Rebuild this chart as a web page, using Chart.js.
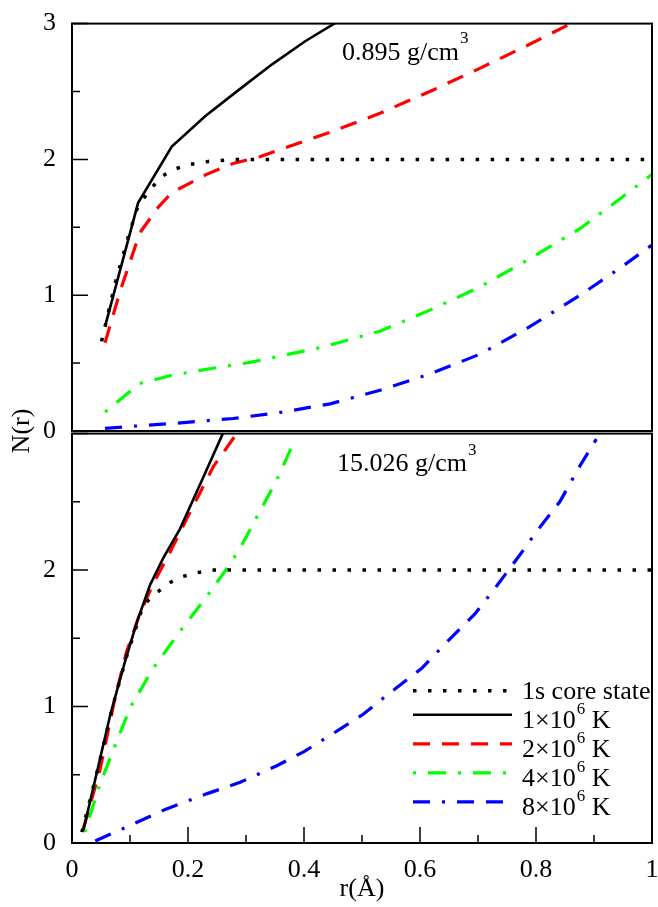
<!DOCTYPE html>
<html>
<head>
  <meta charset="utf-8">
  <title>N(r)</title>
  <script src="https://cdn.jsdelivr.net/npm/chart.js"></script>
  <style>
    body { margin: 0; background: #fff; }
    .panel { position: absolute; left: 0; }
    #topWrap { top: 0; }
    #botWrap { top: 410px; }
  </style>
</head>
<body>
  <div class="panel" id="topWrap"><canvas id="topChart" width="658" height="460"></canvas></div>
  <div class="panel" id="botWrap"><canvas id="botChart" width="658" height="497"></canvas></div>

  <script>
    // labels
    const seriesLabels = ['1s core state', '1×10⁶ K', '2×10⁶ K', '4×10⁶ K', '8×10⁶ K'];
    const densityLabels = ['0.895 g/cm³', '15.026 g/cm³'];
    const xTickLabels = ['0', '0.2', '0.4', '0.6', '0.8', '1'];
    const yTickLabelsTop = ['0', '1', '2', '3'];
    const yTickLabelsBot = ['0', '1', '2', ''];

    // 0.895 g/cm3 panel, [r, N]
    const coreLo = [[0.051,0.66],[0.074,1.08],[0.097,1.43],[0.114,1.66],[0.137,1.79],[0.157,1.88],[0.178,1.93],[0.2,1.96],[0.235,1.985],[0.28,2.0],[0.5,2.0],[0.75,2.0],[1.0,2.0]];
    const t1Lo = [[0.057,0.77],[0.114,1.68],[0.172,2.095],[0.23,2.32],[0.287,2.51],[0.345,2.7],[0.402,2.87],[0.46,3.02]];
    const t2Lo = [[0.057,0.65],[0.083,1.03],[0.117,1.46],[0.149,1.65],[0.172,1.755],[0.232,1.89],[0.278,1.97],[0.324,2.02],[0.445,2.2],[0.531,2.34],[0.617,2.5],[0.703,2.67],[0.79,2.85],[0.86,3.0]];
    const t4Lo = [[0.057,0.14],[0.117,0.35],[0.172,0.41],[0.232,0.455],[0.307,0.505],[0.428,0.614],[0.531,0.735],[0.617,0.89],[0.703,1.06],[0.79,1.27],[0.876,1.49],[0.945,1.71],[1.0,1.89]];
    const t8Lo = [[0.057,0.02],[0.175,0.056],[0.278,0.092],[0.364,0.14],[0.445,0.2],[0.531,0.3],[0.617,0.42],[0.703,0.565],[0.79,0.77],[0.876,1.0],[0.945,1.2],[1.0,1.37]];

    // 15.026 g/cm3 panel
    const coreHi = [[0.017,0.08],[0.045,0.55],[0.07,1.0],[0.095,1.38],[0.112,1.6],[0.123,1.745],[0.145,1.83],[0.165,1.9],[0.188,1.95],[0.215,1.98],[0.24,2.0],[0.5,2.0],[0.75,2.0],[1.0,2.0]];
    const t1Hi = [[0.02,0.1],[0.066,0.94],[0.0914,1.33],[0.112,1.62],[0.1345,1.89],[0.157,2.085],[0.186,2.3],[0.22,2.62],[0.26,3.0]];
    const t2Hi = [[0.0195,0.105],[0.048,0.53],[0.074,1.06],[0.094,1.4],[0.117,1.68],[0.14,1.9],[0.169,2.13],[0.203,2.42],[0.244,2.76],[0.284,3.0]];
    const t4Hi = [[0.022,0.08],[0.048,0.43],[0.1,0.99],[0.14,1.28],[0.186,1.55],[0.232,1.805],[0.267,2.01],[0.29,2.16],[0.315,2.36],[0.353,2.66],[0.385,2.96]];
    const t8Hi = [[0.04,0.015],[0.106,0.14],[0.163,0.25],[0.232,0.36],[0.29,0.445],[0.353,0.566],[0.4,0.67],[0.462,0.834],[0.502,0.943],[0.548,1.1],[0.603,1.28],[0.643,1.458],[0.695,1.68],[0.729,1.866],[0.772,2.11],[0.804,2.3],[0.841,2.5],[0.876,2.765],[0.904,2.96]];

    const FONT = '"Liberation Serif", "Times New Roman", serif';
    const SUP = '⁰¹²³⁴⁵⁶⁷⁸⁹';

    const styles = [
      { color: '#000000', width: 3.5, dash: [3.5, 11.5] },
      { color: '#000000', width: 2.6, dash: [] },
      { color: '#ff0000', width: 3.2, dash: [17, 12] },
      { color: '#00ff00', width: 3.2, dash: [3, 12, 18, 12] },
      { color: '#0000ff', width: 3.2, dash: [17, 12, 3, 12, 17, 12] }
    ];

    function makeDatasets(series) {
      return series.map((pts, i) => ({
        label: seriesLabels[i],
        data: pts.map(([x, y]) => ({ x, y })),
        borderColor: styles[i].color,
        borderWidth: styles[i].width,
        borderDash: styles[i].dash,
        pointRadius: 0,
        tension: 0,
        fill: false,
        clip: 0
      }));
    }

    // text with one superscript group, e.g. g/cm³
    function drawSupText(ctx, text, x, y, size, supSize, rise) {
      ctx.save();
      ctx.fillStyle = '#000';
      ctx.textAlign = 'left';
      ctx.textBaseline = 'alphabetic';
      ctx.font = size + 'px ' + FONT;
      const m = text.match(/^(.*?)([⁰¹²³⁴⁵⁶⁷⁸⁹]+)(.*)$/);
      if (!m) { ctx.fillText(text, x, y); ctx.restore(); return; }
      ctx.fillText(m[1], x, y);
      let cx = x + ctx.measureText(m[1]).width + 1;
      const sup = [...m[2]].map(c => SUP.indexOf(c)).join('');
      ctx.font = supSize + 'px ' + FONT;
      ctx.fillText(sup, cx, y - rise);
      cx += ctx.measureText(sup).width;
      ctx.font = size + 'px ' + FONT;
      ctx.fillText(m[3], cx, y);
      ctx.restore();
    }

    // frame + inward ticks
    const frameTicks = {
      id: 'frameTicks',
      afterDatasetsDraw(chart) {
        const { ctx, chartArea: a } = chart;
        ctx.save();
        ctx.strokeStyle = '#000';
        ctx.lineWidth = 2;
        ctx.strokeRect(a.left, a.top, a.right - a.left, a.bottom - a.top);
        ctx.lineWidth = 1.5;
        ctx.beginPath();
        const ys = chart.scales.y;
        ys.ticks.forEach(t => {
          const p = ys.getPixelForValue(t.value);
          const len = t.label !== '' || t.value === 3 ? 16 : 8;
          ctx.moveTo(a.left, p);
          ctx.lineTo(a.left + len, p);
        });
        const xs = chart.scales.x;
        if (xs.options.display) {
          xs.ticks.forEach(t => {
            const p = xs.getPixelForValue(t.value);
            const len = t.label !== '' ? 16 : 8;
            ctx.moveTo(p, a.bottom);
            ctx.lineTo(p, a.bottom - len);
          });
        }
        ctx.stroke();
        ctx.restore();
      }
    };

    const notePlugin = {
      id: 'note',
      afterDatasetsDraw(chart, args, opts) {
        const a = chart.chartArea;
        drawSupText(chart.ctx, opts.text, a.left + opts.dx, a.top + opts.dy, 26, 17, opts.rise);
      }
    };

    const yTitlePlugin = {
      id: 'ytitle',
      afterDraw(chart) {
        const { ctx, chartArea: a } = chart;
        ctx.save();
        ctx.translate(22, a.bottom);
        ctx.rotate(-Math.PI / 2);
        ctx.font = '26px ' + FONT;
        ctx.fillStyle = '#000';
        ctx.textAlign = 'center';
        ctx.textBaseline = 'middle';
        ctx.fillText('N(r)', 0, 0);
        ctx.restore();
      }
    };

    const legendPlugin = {
      id: 'inlegend',
      afterDatasetsDraw(chart, args, opts) {
        const { ctx, chartArea: a } = chart;
        chart.data.datasets.forEach((ds, i) => {
          const base = a.top + opts.dy + i * opts.step;
          const ly = base - (i === 0 ? 8.5 : 13.5);
          ctx.save();
          ctx.strokeStyle = ds.borderColor;
          ctx.lineWidth = ds.borderWidth;
          ctx.setLineDash(ds.borderDash || []);
          ctx.beginPath();
          ctx.moveTo(a.left + opts.x1, ly);
          ctx.lineTo(a.left + opts.x2, ly);
          ctx.stroke();
          ctx.restore();
          drawSupText(ctx, ds.label, a.left + opts.tx, base, 26, 17, 14);
        });
      }
    };

    function xTick(value) {
      const v = Math.round(value * 10);
      return v % 2 === 0 ? xTickLabels[v / 2] : '';
    }

    function makeScales(showX, yLabels) {
      return {
        x: {
          type: 'linear', min: 0, max: 1, display: showX,
          grid: { display: false }, border: { display: false },
          ticks: { stepSize: 0.1, autoSkip: false, maxRotation: 0, padding: 4, color: '#000',
                   font: { family: FONT, size: 26 }, callback: xTick },
          title: { display: true, text: 'r(Å)', color: '#000', font: { family: FONT, size: 26 },
                   padding: { top: 0, bottom: 2 } },
          afterFit: s => {
            // keep the plot box fixed; the end labels may stick out
            s.paddingLeft = 0;
            s.paddingRight = 0;
            if (s.options.display) s.height = 64;
          }
        },
        y: {
          type: 'linear', min: 0, max: 3,
          grid: { display: false }, border: { display: false },
          ticks: { stepSize: 0.5, autoSkip: false, padding: 8, color: '#000',
                   font: { family: FONT, size: 26 },
                   callback: v => Number.isInteger(v) ? yLabels[v] : '' },
          afterFit: s => { s.width = 72; }
        }
      };
    }

    const baseOpts = {
      responsive: false,
      animation: false,
      devicePixelRatio: 1,
      events: []
    };

    new Chart(document.getElementById('topChart'), {
      type: 'line',
      data: { datasets: makeDatasets([coreLo, t1Lo, t2Lo, t4Lo, t8Lo]) },
      options: Object.assign({}, baseOpts, {
        layout: { padding: { top: 19, right: 6, bottom: 29, left: 0 } },
        scales: makeScales(false, yTickLabelsTop),
        plugins: {
          legend: { display: false },
          tooltip: { enabled: false },
          note: { text: densityLabels[0], dx: 270, dy: 36, rise: 17 }
        }
      }),
      plugins: [frameTicks, notePlugin, yTitlePlugin]
    });

    new Chart(document.getElementById('botChart'), {
      type: 'line',
      data: { datasets: makeDatasets([coreHi, t1Hi, t2Hi, t4Hi, t8Hi]) },
      options: Object.assign({}, baseOpts, {
        layout: { padding: { top: 21, right: 6, bottom: 0, left: 0 } },
        scales: makeScales(true, yTickLabelsBot),
        plugins: {
          legend: { display: false },
          tooltip: { enabled: false },
          note: { text: densityLabels[1], dx: 265, dy: 37, rise: 16 },
          inlegend: { dy: 265.7, step: 29, x1: 341, x2: 440, tx: 450 }
        }
      }),
      plugins: [frameTicks, notePlugin, legendPlugin]
    });
  </script>
</body>
</html>
